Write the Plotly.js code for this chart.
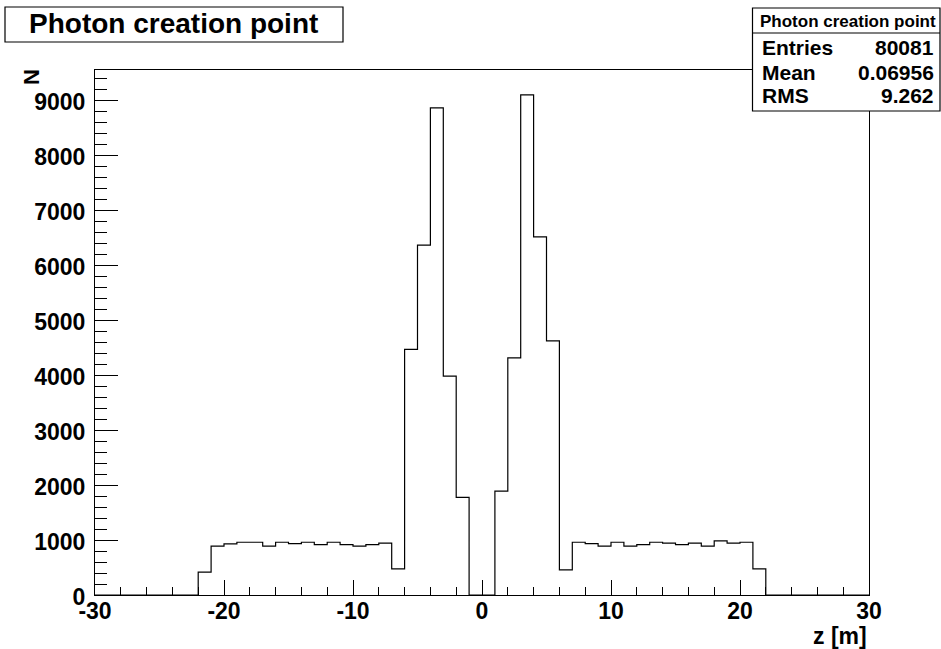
<!DOCTYPE html>
<html>
<head>
<meta charset="utf-8">
<script src="https://cdn.plot.ly/plotly-3.0.1.min.js"></script>
<style>html,body{margin:0;padding:0;background:#fff;}#chart{width:941px;height:649px;}</style>
</head>
<body>
<div id="chart"></div>
<script>
// Histogram definition: 60 bins from -30 to 30 (z in metres)
const histTitle = "Photon creation point";
const xMin = -30;
const xMax = 30;
const nBins = 60;
const binCounts = [
  0, 0, 0, 0, 0, 0, 0, 0,
  415, 888, 930, 960, 960, 888, 960, 936, 960, 918, 960, 918, 888, 918, 942,
  476, 4467, 6364, 8860, 3982, 1776, 0,
  0, 1891, 4315, 9097, 6515, 4624, 458,
  960, 936, 888, 960, 888, 918, 960, 942, 918, 942, 888, 985, 942, 960, 476,
  0, 0, 0, 0, 0, 0, 0, 0
];
const xTickVals = [-30, -20, -10, 0, 10, 20, 30];
const xTickText = ["-30", "-20", "-10", "0", "10", "20", "30"];
const statLabels = ["Entries", "Mean", "RMS"];
const statValues = ["80081", "0.06956", "9.262"];
const xTitle = "z [m]";
const yTitle = "N";

// Build step outline from bin edges
const binWidth = (xMax - xMin) / nBins;
const stepX = [];
const stepY = [];
for (let i = 0; i < nBins; i++) {
  stepX.push(xMin + i * binWidth);
  stepY.push(binCounts[i]);
}
stepX.push(xMax);
stepY.push(binCounts[nBins - 1]);

// Pixel -> paper helpers (plot frame: x 95..869, y 70..595)
const L = 95, R = 869, T = 70, B = 595;
const px = x => (x - L) / (R - L);
const py = y => (B - y) / (B - T);

const FONT = "Liberation Sans, Arial, Helvetica, sans-serif";

const trace = {
  type: "scatter",
  mode: "lines",
  x: stepX,
  y: stepY,
  line: {shape: "hv", color: "#000", width: 1.2},
  hoverinfo: "x+y",
  cliponaxis: true
};

const shapes = [
  {type: "rect", xref: "paper", yref: "paper", x0: px(5), x1: px(343), y0: py(42), y1: py(7),
   fillcolor: "#fff", line: {color: "#000", width: 1.2}, layer: "above"},
  {type: "rect", xref: "paper", yref: "paper", x0: px(752.5), x1: px(940), y0: py(111), y1: py(8),
   fillcolor: "#fff", line: {color: "#000", width: 1.2}, layer: "above"},
  {type: "line", xref: "paper", yref: "paper", x0: px(752.5), x1: px(940), y0: py(33), y1: py(33),
   line: {color: "#000", width: 1.2}, layer: "above"}
];

const annotations = [
  {xref: "paper", yref: "paper", x: px(173), y: py(24), text: histTitle, showarrow: false,
   xanchor: "center", yanchor: "middle", font: {family: FONT, size: 28, color: "#000", weight: "bold"}},
  {xref: "paper", yref: "paper", x: px(848), y: py(21), text: histTitle, showarrow: false,
   xanchor: "center", yanchor: "middle", font: {family: FONT, size: 17, color: "#000", weight: "bold"}},
  {xref: "paper", yref: "paper", x: px(32), y: py(77), text: yTitle, showarrow: false, textangle: -90,
   xanchor: "center", yanchor: "middle", font: {family: FONT, size: 22, color: "#000", weight: "bold"}},
  {xref: "paper", yref: "paper", x: px(869), y: py(636), text: xTitle, showarrow: false,
   xanchor: "right", yanchor: "middle", font: {family: FONT, size: 23, color: "#000", weight: "bold"}}
];
const statY = [47, 73, 95];
for (let i = 0; i < statLabels.length; i++) {
  annotations.push({xref: "paper", yref: "paper", x: px(760), y: py(statY[i]), text: statLabels[i],
    showarrow: false, xanchor: "left", yanchor: "middle",
    font: {family: FONT, size: 21, color: "#000", weight: "bold"}});
  annotations.push({xref: "paper", yref: "paper", x: px(936), y: py(statY[i]), text: statValues[i],
    showarrow: false, xanchor: "right", yanchor: "middle",
    font: {family: FONT, size: 21, color: "#000", weight: "bold"}});
}

const layout = {
  width: 941, height: 649,
  margin: {l: L, r: 941 - R, t: T, b: 649 - B, pad: 0},
  paper_bgcolor: "#fff", plot_bgcolor: "#fff",
  showlegend: false,
  xaxis: {
    range: [xMin, xMax], tickmode: "array", tickvals: xTickVals, ticktext: xTickText,
    ticks: "inside", ticklen: 15, tickwidth: 1, tickcolor: "#000",
    minor: {tickmode: "linear", tick0: -30, dtick: 2, ticks: "inside", ticklen: 8, tickwidth: 1, tickcolor: "#000"},
    showline: true, linecolor: "#000", linewidth: 1, mirror: true,
    showgrid: false, zeroline: false,
    tickfont: {family: FONT, size: 23, color: "#000", weight: "bold"},
    ticklabelstandoff: -5
  },
  yaxis: {
    range: [0, 9550], tick0: 0, dtick: 1000, ticks: "inside", ticklen: 23, tickwidth: 1, tickcolor: "#000",
    minor: {dtick: 200, ticks: "inside", ticklen: 12, tickwidth: 1, tickcolor: "#000"},
    showline: true, linecolor: "#000", linewidth: 1, mirror: true,
    showgrid: false, zeroline: false,
    tickfont: {family: FONT, size: 23, color: "#000", weight: "bold"},
    ticklabelstandoff: 4,
    ticklabelshift: 2
  },
  shapes: shapes,
  annotations: annotations
};

Plotly.newPlot("chart", [trace], layout, {displayModeBar: false, staticPlot: true});
</script>
</body>
</html>
